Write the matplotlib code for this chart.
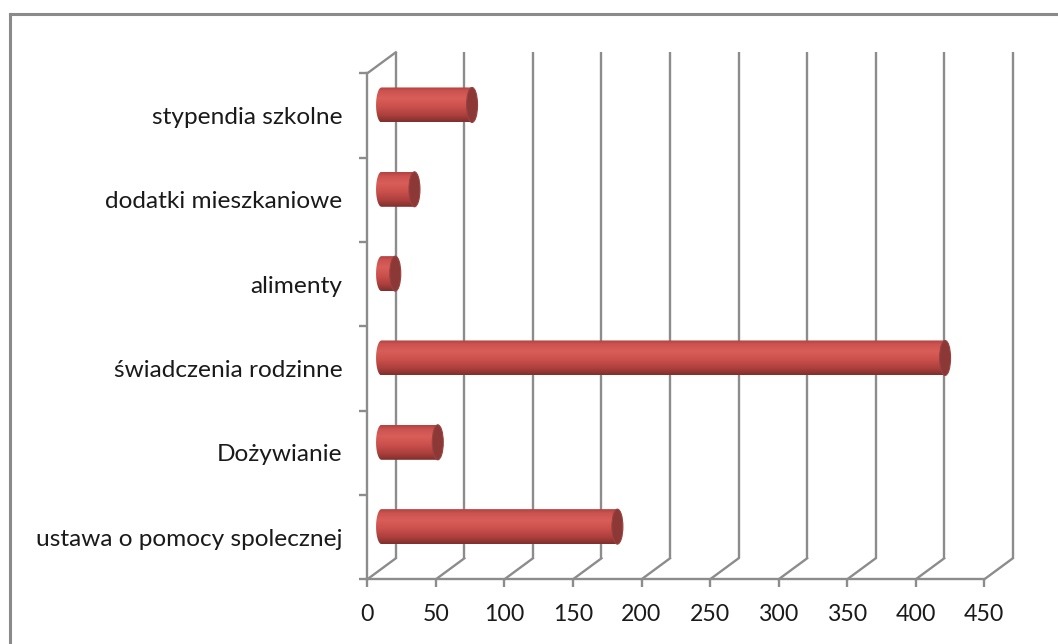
import numpy as np
import matplotlib
matplotlib.use("Agg")
import matplotlib.pyplot as plt
from matplotlib.path import Path
from matplotlib.patches import PathPatch, Ellipse
from matplotlib.colors import LinearSegmentedColormap
from matplotlib.lines import Line2D

plt.rcParams['font.family'] = ['Lato', 'DejaVu Sans']

# ---- data (bottom to top) ----
categories = ["ustawa o pomocy spolecznej", "Dożywianie", "świadczenia rodzinne",
              "alimenty", "dodatki mieszkaniowe", "stypendia szkolne"]
values = [172, 41, 411, 10, 24, 66]
x_ticks = [0, 50, 100, 150, 200, 250, 300, 350, 400, 450]

W, H = 1058, 644
fig = plt.figure(figsize=(W / 100, H / 100), dpi=100)
fig.patch.set_facecolor("white")

# front plane of the 3-D plot, in pixels
ax_l, ax_r, ax_t, ax_b = 367.3, 984.3, 73.3, 579.3
ax = fig.add_axes([ax_l / W, (H - ax_b) / H, (ax_r - ax_l) / W, (ax_b - ax_t) / H])
xmin, xmax = 0, 450
ymin, ymax = -0.5, len(categories) - 0.5
ax.set_xlim(xmin, xmax)
ax.set_ylim(ymin, ymax)
ax.set_facecolor("none")

px_x = (ax_r - ax_l) / (xmax - xmin)        # pixels per data unit x
px_y = (ax_b - ax_t) / (ymax - ymin)        # pixels per category
dx = 28.5 / px_x                            # depth offset in data units
dy = 21.0 / px_y

grid_c = "#8c8c8c"
lw = 1.7

# back wall vertical gridlines and floor diagonals
for xv in x_ticks:
    ax.plot([xv + dx, xv + dx], [ymin + dy, ymax + dy], color=grid_c, lw=lw,
            clip_on=False, zorder=1, solid_capstyle="butt")
    ax.plot([xv, xv + dx], [ymin, ymin + dy], color=grid_c, lw=lw,
            clip_on=False, zorder=1)
# top-left diagonal of the side wall
ax.plot([xmin, xmin + dx], [ymax, ymax + dy], color=grid_c, lw=lw, clip_on=False, zorder=1)

# spines / ticks (front axes)
for s in ["top", "right"]:
    ax.spines[s].set_visible(False)
for s in ["left", "bottom"]:
    ax.spines[s].set_color(grid_c)
    ax.spines[s].set_linewidth(lw)
    ax.spines[s].set_zorder(1)

ax.set_xticks(x_ticks)
ax.set_xticklabels([str(t) for t in x_ticks])
ax.tick_params(axis="x", direction="out", length=6, width=lw, color=grid_c,
               labelsize=16.7, labelcolor="#1a1a1a", pad=12)
ax.set_yticks(np.arange(ymin, ymax + 0.01, 1.0))
ax.set_yticklabels([])
ax.tick_params(axis="y", which="major", direction="out", length=6, width=lw, color=grid_c)
ax.set_yticks(np.arange(len(categories)), minor=True)
ax.set_yticklabels(categories, minor=True)
ax.tick_params(axis="y", which="minor", length=0, pad=18, labelsize=17.6, labelcolor="#1a1a1a")

# cylinder gradient (top -> bottom)
cmap = LinearSegmentedColormap.from_list("cyl", [
    (0.00, "#b34240"), (0.12, "#cc5350"), (0.32, "#d95e5a"),
    (0.55, "#cc514d"), (0.80, "#ad403d"), (1.00, "#7e2f2d")])
grad = np.linspace(0, 1, 256).reshape(-1, 1)

bar_h = 35.0 / px_y
cap_w = 11.0 / px_x
t = np.linspace(np.pi / 2, 3 * np.pi / 2, 40)

for i, v in enumerate(values):
    yc = i + dy / 2
    x0 = dx / 2
    x1 = x0 + v
    y0, y1 = yc - bar_h / 2, yc + bar_h / 2
    # outline: top edge, left half-ellipse, bottom edge
    ex = x0 + (cap_w / 2) * np.cos(t)
    ey = yc + (bar_h / 2) * np.sin(t)
    verts = [(x1, y1)] + list(zip(ex, ey)) + [(x1, y0), (x1, y1)]
    codes = [Path.MOVETO] + [Path.LINETO] * (len(verts) - 2) + [Path.CLOSEPOLY]
    body = PathPatch(Path(verts, codes), facecolor="none", edgecolor="none", zorder=3)
    ax.add_patch(body)
    im = ax.imshow(grad, cmap=cmap, extent=[x0 - cap_w / 2, x1, y0, y1],
                   aspect="auto", origin="upper", interpolation="bilinear", zorder=3)
    im.set_clip_path(body)
    im.set_clip_on(True)
    ax.add_patch(Ellipse((x1, yc), cap_w, bar_h, facecolor="#8c3836",
                         edgecolor="#9a4240", lw=0.8, zorder=4, clip_on=False))

ax.set_xlim(xmin, xmax)
ax.set_ylim(ymin, ymax)

# outer chart frame (top and left edges visible)
fig.add_artist(Line2D([9.5 / W, 9.5 / W], [0, (H - 14) / H], color="#8a8a8a", lw=2.2,
                      transform=fig.transFigure))
fig.add_artist(Line2D([9.5 / W, 1.0], [(H - 14) / H, (H - 14) / H], color="#8a8a8a", lw=2.2,
                      transform=fig.transFigure))

fig.savefig("out.png", dpi=100, facecolor="white")
